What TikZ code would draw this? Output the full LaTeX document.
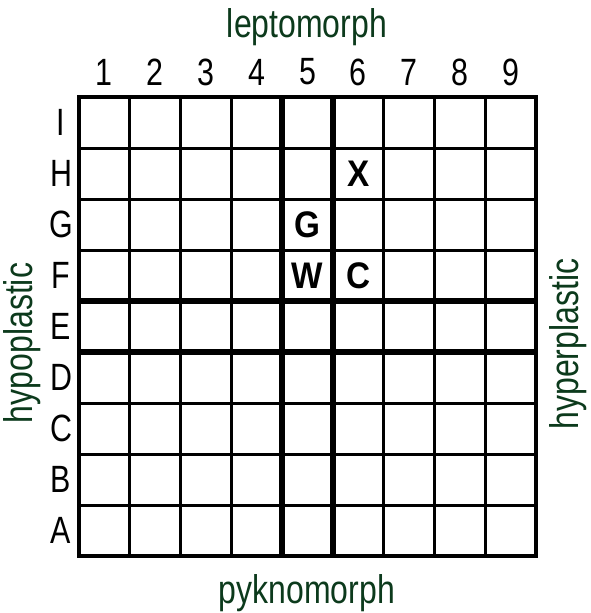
\documentclass[tikz,border=0pt]{standalone}
\usepackage{fontspec}
\setmainfont{Liberation Sans}[FakeStretch=0.8]
\newfontfamily\markfont{Liberation Sans Bold}[FakeStretch=0.9]
\usetikzlibrary{positioning,calc}
\definecolor{labelgreen}{RGB}{12,58,28}
\tikzset{
  thin grid/.style={line width=3pt},
  thick grid/.style={line width=6pt},
  border grid/.style={line width=4pt},
  scale label/.style={font=\fontsize{38}{38}\selectfont, inner sep=0pt},
  side label/.style={font=\fontsize{40}{40}\selectfont, text=labelgreen, inner sep=0pt},
  cellmark/.style={font=\markfont\fontsize{37}{37}\selectfont, inner sep=0pt}
}

\begin{document}
\begin{tikzpicture}[x=1pt,y=-1pt]
  \useasboundingbox (0,0) rectangle (590,613);
  \def\cw{50.78} % cell width
  \def\ch{51} % cell height
  \coordinate (NW) at (79,97); %
  \coordinate (SE) at (536,556); %
  % grid
  \foreach \i in {1,2,3,6,7,8} {
    \draw[thin grid] (79+\i*\cw,97) -- (79+\i*\cw,556);
    \draw[thin grid] (79,97+\i*\ch) -- (536,97+\i*\ch);
  }
  \foreach \i in {4,5} {
    \draw[thick grid] (79+\i*\cw,97) -- (79+\i*\cw,556);
    \draw[thick grid] (79,97+\i*\ch) -- (536,97+\i*\ch);
  }
  \draw[border grid] (NW) rectangle (SE); %
  % scales
  \foreach \n in {1,...,9}
    \node[scale label] (col\n) at (79+\n*\cw-0.5*\cw,72) {\n};
  \foreach \r [count=\k] in {I,H,G,F,E,D,C,B,A}
    \node[scale label] (row\r) at (61,97+\k*\ch-0.5*\ch) {\r};
  % axis names
  \node[side label] (lepto) at (307,27) {leptomorph};
  \node[side label] (pykno) at (307,593) {pyknomorph};
  \node[side label, rotate=90] (hypo) at (22,343) {hypoplastic};
  \node[side label, rotate=90] (hyper) at (568,344) {hyperplastic};
  % marks
  \node[cellmark] (markX) at (col6 |- rowH) {X};
  \node[cellmark] (markG) at (col5 |- rowG) {G};
  \node[cellmark] (markW) at (col5 |- rowF) {W};
  \node[cellmark] (markC) at (col6 |- rowF) {C};
\end{tikzpicture}
\end{document}
